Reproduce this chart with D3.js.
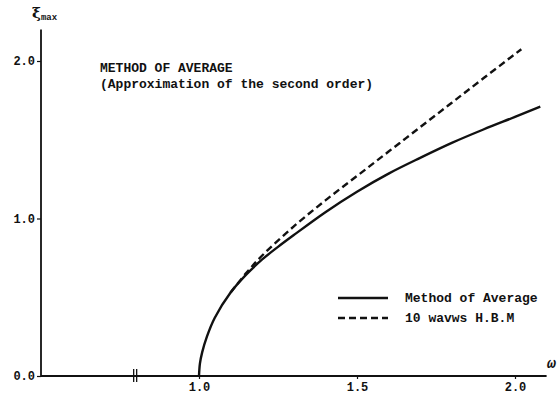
<!DOCTYPE html>
<html>
<head>
<meta charset="utf-8">
<script src="https://cdn.jsdelivr.net/npm/d3@7"></script>
<style>
  html, body { margin: 0; padding: 0; background: #fff; }
  svg { display: block; }
  text { font-family: "Liberation Mono", "DejaVu Sans Mono", monospace; font-weight: bold; fill: #111; }
</style>
</head>
<body>
<svg id="chart" width="560" height="397"></svg>
<script>
// ---- data ----
const averageW   = [1.0, 1.003, 1.01, 1.025, 1.05, 1.1, 1.15, 1.2, 1.25, 1.3, 1.4, 1.5, 1.6, 1.7, 1.8, 1.9, 2.0, 2.08];
const averageXi  = [0.0, 0.08, 0.15, 0.25, 0.37, 0.53, 0.645, 0.74, 0.82, 0.895, 1.04, 1.17, 1.285, 1.385, 1.48, 1.565, 1.645, 1.71];
const hbmW       = [1.1, 1.15, 1.2, 1.3, 1.4, 1.5, 1.6, 1.7, 1.8, 1.9, 2.02];
const hbmXi      = [0.53, 0.655, 0.765, 0.95, 1.115, 1.27, 1.425, 1.58, 1.735, 1.89, 2.075];
const xTicks     = [1.0, 1.5, 2.0];
const yTicks     = [0.0, 1.0, 2.0];
const legendLabels = ["Method of Average", "10 wavws H.B.M"];
const titleLines = ["METHOD OF AVERAGE", "(Approximation of the second order)"];

// ---- layout ----
const svg = d3.select("#chart");
const x = d3.scaleLinear().domain([0.5, 2.1]).range([41, 546.6]);
const y = d3.scaleLinear().domain([0, 2.2]).range([376, 29.5]);
const ink = "#111";

// axes
const xAxis = d3.axisBottom(x).tickValues(xTicks).tickFormat(d3.format(".1f")).tickSize(3).tickPadding(3);
const yAxis = d3.axisLeft(y).tickValues(yTicks).tickFormat(d3.format(".1f")).tickSize(4).tickPadding(2);

const gx = svg.append("g").attr("transform", `translate(0,${y(0)})`).call(xAxis);
const gy = svg.append("g").attr("transform", `translate(${x(0.5)},0)`).call(yAxis);
[gx, gy].forEach(g => {
  g.select(".domain").attr("stroke", ink).attr("stroke-width", 1.8);
  g.selectAll(".tick line").attr("stroke", ink).attr("stroke-width", 1.2);
  g.selectAll(".tick text").attr("font-family", "Liberation Mono").attr("font-weight", "bold")
    .attr("font-size", 12).attr("fill", ink);
});
gx.select(".domain").attr("d", `M${x(0.5)},0H${x(2.1)}`);
gy.select(".domain").attr("d", `M0,${y(2.2)}V${y(0)}`);

// axis break marks
[-1.5, 1.5].forEach(dx => {
  svg.append("line")
    .attr("x1", x(0.798) + dx).attr("x2", x(0.798) + dx)
    .attr("y1", y(0) - 7).attr("y2", y(0) + 6)
    .attr("stroke", ink).attr("stroke-width", 1.3);
});

// axis labels
const yl = svg.append("text").attr("x", 32).attr("y", 18);
yl.append("tspan").attr("font-size", 15).attr("font-family", "DejaVu Serif").text("ξ");
yl.append("tspan").attr("font-size", 9).attr("dy", 2).text("max");
svg.append("text").attr("x", 547).attr("y", 368).attr("font-size", 15)
  .attr("font-family", "DejaVu Serif").attr("font-style", "italic").text("ω");

// curves
const line = d3.line().x(d => x(d[0])).y(d => y(d[1])).curve(d3.curveCatmullRom.alpha(0.5));
svg.append("path").datum(averageW.map((w, i) => [w, averageXi[i]]))
  .attr("d", line).attr("fill", "none").attr("stroke", ink).attr("stroke-width", 2.4);
svg.append("path").datum(hbmW.map((w, i) => [w, hbmXi[i]]))
  .attr("d", line).attr("fill", "none").attr("stroke", ink).attr("stroke-width", 2.4)
  .attr("stroke-dasharray", "7,4");

// title
titleLines.forEach((t, i) => {
  svg.append("text").attr("x", 100).attr("y", 72 + i * 16).attr("font-size", 13).text(t);
});

// legend
legendLabels.forEach((t, i) => {
  const ly = 298 + i * 20;
  svg.append("line").attr("x1", 338).attr("x2", 388).attr("y1", ly).attr("y2", ly)
    .attr("stroke", ink).attr("stroke-width", 2.4)
    .attr("stroke-dasharray", i === 1 ? "7,4" : null);
  svg.append("text").attr("x", 405).attr("y", ly + 4).attr("font-size", 13).text(t);
});
</script>
</body>
</html>
